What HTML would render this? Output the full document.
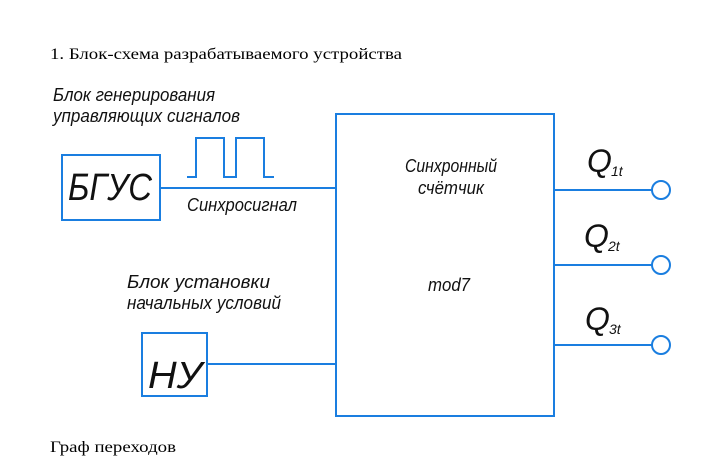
<!DOCTYPE html>
<html><head><meta charset="utf-8"><style>
html,body{margin:0;padding:0;background:#fff;}
svg{display:block;}
.t{font-family:"Liberation Serif",serif;font-size:16px;fill:#000;}
.i{font-family:"Liberation Sans","DejaVu Sans",sans-serif;font-style:italic;fill:#111;}
</style></head><body>
<svg width="714" height="471" viewBox="0 0 714 471" xmlns="http://www.w3.org/2000/svg">
<text class="t" x="50" y="59" textLength="352" lengthAdjust="spacingAndGlyphs">1. Блок-схема разрабатываемого устройства</text>
<text class="t" x="50" y="452" textLength="126" lengthAdjust="spacingAndGlyphs">Граф переходов</text>
<g stroke="#1a7ee0" stroke-width="2" fill="none">
<rect x="62" y="155" width="98" height="65"/>
<rect x="142" y="333" width="65" height="63"/>
<rect x="336" y="114" width="218" height="302"/>
<line x1="160" y1="188" x2="336" y2="188"/>
<line x1="207" y1="364" x2="336" y2="364"/>
<polyline points="187,177 196,177 196,138 224,138 224,177 236,177 236,138 264,138 264,177 274,177"/>
<line x1="554" y1="190" x2="652" y2="190"/>
<line x1="554" y1="265" x2="652" y2="265"/>
<line x1="554" y1="345" x2="652" y2="345"/>
<circle cx="661" cy="190" r="9" fill="#fff"/>
<circle cx="661" cy="265" r="9" fill="#fff"/>
<circle cx="661" cy="345" r="9" fill="#fff"/>
</g>
<text class="i" x="53" y="101" font-size="18" textLength="162" lengthAdjust="spacingAndGlyphs">Блок генерирования</text>
<text class="i" x="53" y="122" font-size="18" textLength="187" lengthAdjust="spacingAndGlyphs">управляющих сигналов</text>
<text class="i" x="187" y="211" font-size="18" textLength="110" lengthAdjust="spacingAndGlyphs">Синхросигнал</text>
<text class="i" x="127" y="288" font-size="18" textLength="143" lengthAdjust="spacingAndGlyphs">Блок установки</text>
<text class="i" x="127" y="309" font-size="18" textLength="154" lengthAdjust="spacingAndGlyphs">начальных условий</text>
<text class="i" x="68" y="200" font-size="38" textLength="84" lengthAdjust="spacingAndGlyphs">БГУС</text>
<text class="i" x="148" y="388" font-size="38" textLength="54" lengthAdjust="spacingAndGlyphs">НУ</text>
<text class="i" x="405" y="172" font-size="18" textLength="92" lengthAdjust="spacingAndGlyphs">Синхронный</text>
<text class="i" x="418" y="194" font-size="18" textLength="66" lengthAdjust="spacingAndGlyphs">счётчик</text>
<text class="i" x="428" y="291" font-size="18" textLength="42" lengthAdjust="spacingAndGlyphs">mod7</text>
<g class="i">
<text x="587" y="172" font-size="32">Q</text><text x="611" y="176" font-size="14">1t</text>
<text x="584" y="247" font-size="32">Q</text><text x="608" y="251" font-size="14">2t</text>
<text x="585" y="330" font-size="32">Q</text><text x="609" y="334" font-size="14">3t</text>
</g>
</svg>
</body></html>
